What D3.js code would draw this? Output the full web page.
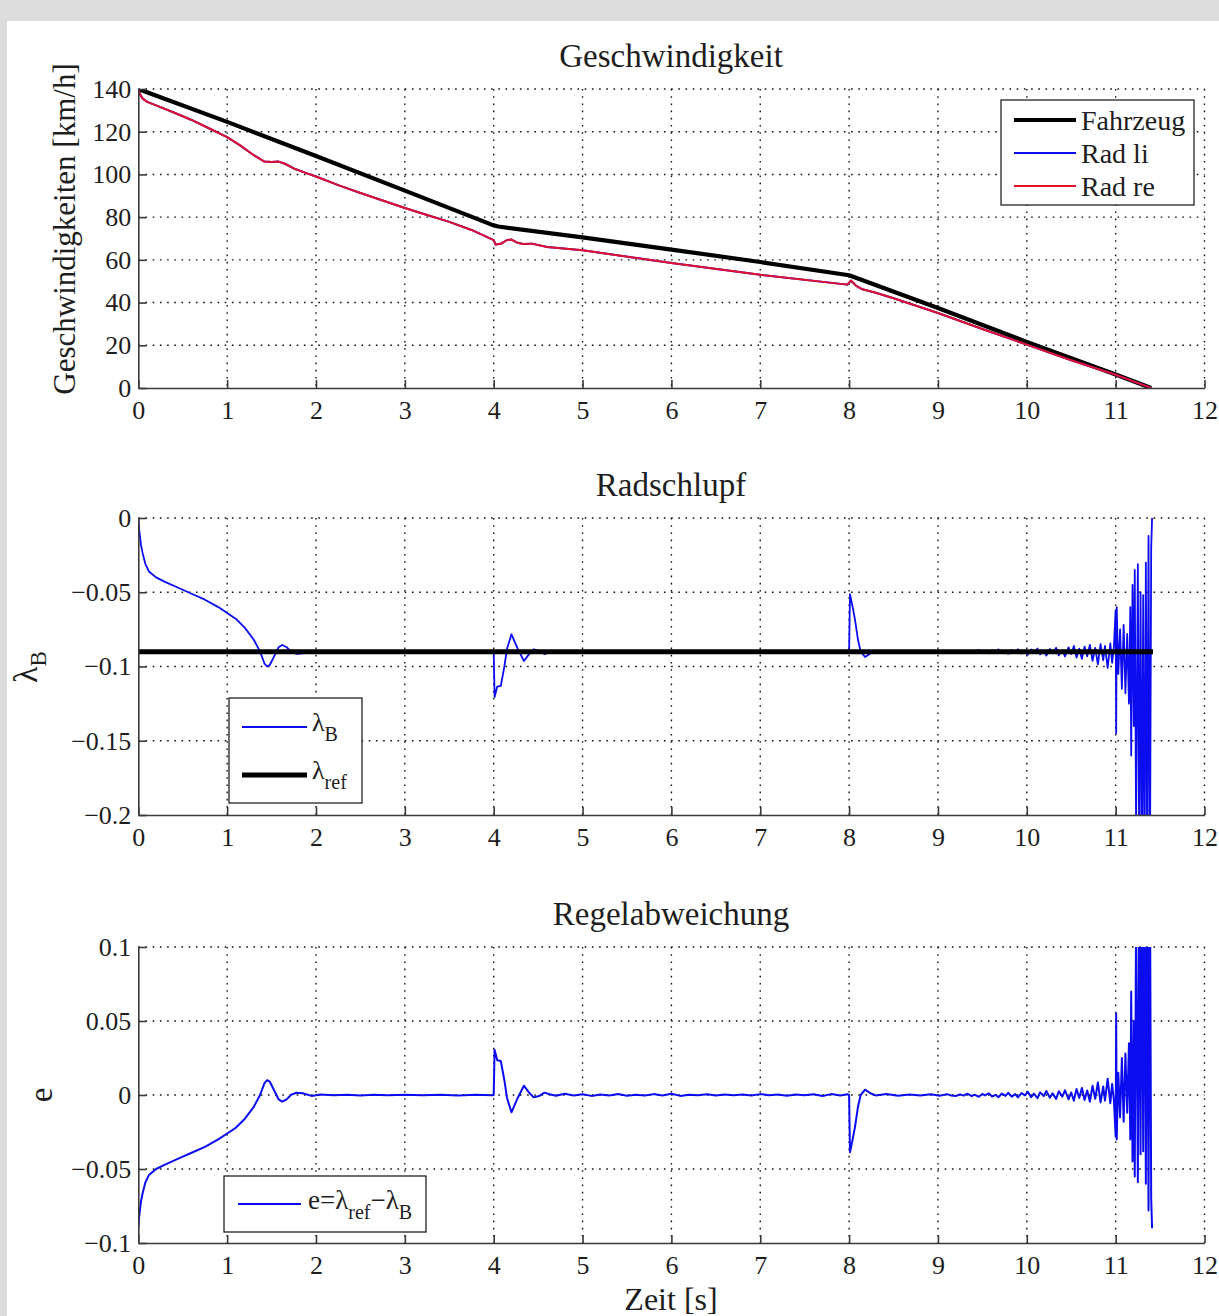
<!DOCTYPE html>
<html>
<head>
<meta charset="utf-8">
<script src="https://cdn.jsdelivr.net/npm/d3@7"></script>
<style>
html, body { margin: 0; padding: 0; background: #dcdcdc; }
svg { display: block; }
text { font-family: "Liberation Serif", "DejaVu Serif", serif; fill: #1e1e1e; }
</style>
</head>
<body>
<svg id="chart" width="1219" height="1316"></svg>
<script>
// achsen
const timeTicks = [0, 1, 2, 3, 4, 5, 6, 7, 8, 9, 10, 11, 12];
const speedTicks = [0, 20, 40, 60, 80, 100, 120, 140];
const slipTicks = [0, -0.05, -0.1, -0.15, -0.2];
const errTicks = [0.1, 0.05, 0, -0.05, -0.1];

// Geschwindigkeit [km/h] über Zeit [s]
const fahrzeug = [
    [0, 140], [1, 124.6], [2, 108.6], [3, 92.4], [3.97, 76.6], [4.05, 75.6],
    [5, 70.5], [6, 64.8], [7, 59], [8, 52.8], [9, 37.5], [10, 21.6], [11, 6.3], [11.4, 0]
];
const radRe = [
    [0, 140], [0.02, 137.5], [0.05, 135.5], [0.1, 134], [0.2, 132.3], [0.4, 129],
    [0.6, 125.5], [0.8, 121.5], [1.0, 117.5], [1.15, 113.5], [1.3, 109], [1.42, 106],
    [1.5, 105.8], [1.58, 106], [1.65, 105], [1.75, 102.8], [1.9, 100.5], [2.0, 99],
    [2.25, 95], [2.5, 91.3], [2.75, 87.8], [3.0, 84.3], [3.25, 81], [3.5, 77.8],
    [3.75, 74], [3.97, 69.8], [4.0, 69.2], [4.02, 67.2], [4.08, 67.5], [4.15, 69.3],
    [4.2, 69.5], [4.27, 68], [4.33, 67.4], [4.43, 67.6], [4.6, 66], [5, 64.5],
    [6, 58.5], [7, 53], [7.98, 48.4], [8.02, 50.3], [8.08, 47.8], [8.15, 46.2],
    [8.3, 44.6], [8.5, 42], [9, 35.1], [9.5, 27.6], [10, 20.3], [10.5, 13],
    [11, 6.2], [11.4, 0]
];
// linkes Rad liegt im Bild komplett unter dem rechten
const radLi = radRe;

// Radschlupf
const lambdaRef = -0.09;
const lambdaRefEnd = 11.42;
const lambdaB = [
    [0, 0], [0.01, -0.008], [0.03, -0.018], [0.05, -0.024], [0.08, -0.031], [0.12, -0.036],
    [0.2, -0.040], [0.3, -0.043], [0.45, -0.047], [0.6, -0.051], [0.75, -0.055], [0.9, -0.060],
    [1.0, -0.064], [1.1, -0.068], [1.2, -0.074], [1.3, -0.082], [1.37, -0.090], [1.42, -0.098],
    [1.45, -0.100], [1.48, -0.099], [1.53, -0.093], [1.58, -0.087], [1.62, -0.0855], [1.67, -0.087],
    [1.72, -0.0902], [1.78, -0.0915], [1.85, -0.0912], [1.95, -0.0894], [2.05, -0.0903], [2.2, -0.0898],
    [2.35, -0.0902], [2.5, -0.0897], [2.65, -0.0901], [2.8, -0.0898], [3.0, -0.0902], [3.2, -0.0898],
    [3.4, -0.0901], [3.6, -0.0897], [3.8, -0.0901], [3.99, -0.0899],
    [4.0, -0.0900], [4.01, -0.1206], [4.04, -0.1135], [4.08, -0.1130], [4.12, -0.1000], [4.15, -0.0880],
    [4.2, -0.0783], [4.27, -0.0880], [4.34, -0.0963], [4.4, -0.0915], [4.45, -0.0884], [4.51, -0.0893],
    [4.57, -0.0916], [4.63, -0.0905], [4.7, -0.0895], [4.8, -0.0908], [4.9, -0.0896], [5.0, -0.0905],
    [5.1, -0.0894], [5.2, -0.0903], [5.3, -0.0897], [5.4, -0.0907], [5.5, -0.0895], [5.6, -0.0902],
    [5.7, -0.0896], [5.8, -0.0906], [5.9, -0.0897], [6.0, -0.0908], [6.1, -0.0894], [6.2, -0.0902],
    [6.3, -0.0898], [6.4, -0.0905], [6.5, -0.0896], [6.6, -0.0903], [6.7, -0.0899], [6.8, -0.0904],
    [6.9, -0.0896], [7.0, -0.0906], [7.1, -0.0898], [7.2, -0.0903], [7.3, -0.0895], [7.4, -0.0904],
    [7.5, -0.0898], [7.6, -0.0905], [7.7, -0.0893], [7.8, -0.0906], [7.9, -0.0897], [7.98, -0.0905],
    [8.0, -0.0900], [8.01, -0.0513], [8.04, -0.0600], [8.065, -0.0680], [8.1, -0.0820], [8.13, -0.0900],
    [8.18, -0.0936], [8.24, -0.0912], [8.3, -0.0897], [8.42, -0.0906], [8.55, -0.0895], [8.68, -0.0904],
    [8.8, -0.0897], [8.92, -0.0905], [9.02, -0.0895], [9.1, -0.0906], [9.15, -0.0897],
    [9.20, -0.0893], [9.25, -0.0904], [9.29, -0.0896], [9.33, -0.0909], [9.38, -0.0892], [9.41, -0.0902],
    [9.46, -0.0888], [9.50, -0.0907], [9.53, -0.0897], [9.57, -0.0912], [9.61, -0.0890], [9.65, -0.0901],
    [9.68, -0.0885], [9.72, -0.0910], [9.76, -0.0894], [9.79, -0.0915], [9.83, -0.0889], [9.87, -0.0906],
    [9.90, -0.0884], [9.94, -0.0913], [9.98, -0.0898], [10.01, -0.0921], [10.05, -0.0886], [10.08, -0.0909],
    [10.12, -0.0879], [10.15, -0.0918], [10.19, -0.0893], [10.22, -0.0927], [10.26, -0.0882], [10.29, -0.0911],
    [10.33, -0.0874], [10.36, -0.0925], [10.40, -0.0889], [10.43, -0.0932], [10.47, -0.0871], [10.50, -0.0917],
    [10.53, -0.0862], [10.56, -0.0940], [10.59, -0.0880], [10.62, -0.0948], [10.65, -0.0866], [10.68, -0.0931],
    [10.71, -0.0855], [10.74, -0.0962], [10.77, -0.0874], [10.80, -0.0985], [10.83, -0.0850], [10.86, -0.0958],
    [10.88, -0.0862], [10.91, -0.1010], [10.94, -0.0845], [10.96, -0.0975], [10.98, -0.0868],
    [11.0, -0.0620], [11.006, -0.1450], [11.012, -0.0600], [11.03, -0.1050], [11.05, -0.0750], [11.07, -0.1150],
    [11.09, -0.0720], [11.11, -0.1180], [11.13, -0.0780], [11.15, -0.1250], [11.165, -0.0600], [11.175, -0.1600],
    [11.19, -0.0450], [11.205, -0.1400], [11.215, -0.0350], [11.23, -0.2100], [11.25, -0.0310], [11.265, -0.2300],
    [11.28, -0.0500], [11.295, -0.2400], [11.31, -0.0520], [11.325, -0.2500], [11.34, -0.0300], [11.355, -0.2300],
    [11.37, -0.0120], [11.385, -0.2600], [11.4, -0.0200], [11.41, 0]
];
// Regelabweichung e = lambda_ref - lambda_B
const regelAbw = lambdaB.map(([t, l]) => [t, lambdaRef - l]);

const svg = d3.select('#chart');
svg.append('rect').attr('x', 7).attr('y', 21).attr('width', 1212).attr('height', 1295).attr('fill', '#fff');

const x = d3.scaleLinear().domain([0, 12]).range([138.3, 1204.5]);
const minus = v => (v < 0 ? '\u2212' : '') + Math.abs(v);

const BLUE = '#0c0cf0';
const RED = '#e3102c';
const SERIF = 'Liberation Serif, DejaVu Serif, serif';

//一个子图
function panel(cfg) {
    const y = d3.scaleLinear().domain(cfg.domain).range([cfg.bottom, cfg.top]);
    const g = svg.append('g');

    //grid
    g.selectAll('line.gx').data(timeTicks.filter(t => t > 0)).join('line')
        .attr('class', 'gx')
        .attr('x1', d => x(d)).attr('x2', d => x(d))
        .attr('y1', cfg.top).attr('y2', cfg.bottom);
    g.selectAll('line.gy').data(cfg.ticks.filter(v => v !== cfg.domain[0])).join('line')
        .attr('class', 'gy')
        .attr('x1', x(0)).attr('x2', x(12))
        .attr('y1', d => y(d)).attr('y2', d => y(d));
    g.selectAll('line.gx, line.gy')
        .attr('stroke', '#111').attr('stroke-width', 1.4).attr('stroke-dasharray', '1.6,5.6');

    const clipId = 'clip' + cfg.id;
    svg.append('clipPath').attr('id', clipId).append('rect')
        .attr('x', x(0)).attr('y', cfg.top)
        .attr('width', x(12) - x(0)).attr('height', cfg.bottom - cfg.top);
    const plot = g.append('g').attr('clip-path', `url(#${clipId})`);
    const line = d3.line().x(d => x(d[0])).y(d => y(d[1]));
    cfg.series.forEach(s => {
        plot.append('path').datum(s.data)
            .attr('d', line)
            .attr('fill', 'none')
            .attr('stroke', s.color)
            .attr('stroke-width', s.width)
            .attr('stroke-linejoin', 'round');
    });

    //axes
    const ax = g.append('g').attr('transform', `translate(0,${cfg.bottom})`)
        .call(d3.axisBottom(x).tickValues(timeTicks).tickFormat(d3.format('d'))
            .tickSize(-8).tickSizeOuter(0).tickPadding(13));
    const ay = g.append('g').attr('transform', `translate(${x(0)},0)`)
        .call(d3.axisLeft(y).tickValues(cfg.ticks).tickFormat(minus)
            .tickSize(-8).tickSizeOuter(0).tickPadding(7));
    [ax, ay].forEach(a => {
        a.attr('font-family', SERIF).attr('font-size', 26);
        a.select('.domain').attr('stroke', '#3a3a3a').attr('stroke-width', 1.6);
        a.selectAll('.tick line').attr('stroke', '#3a3a3a').attr('stroke-width', 1.6);
        a.selectAll('.tick text').attr('font-family', SERIF).attr('fill', '#1e1e1e');
    });

    g.append('text').attr('x', 671).attr('y', cfg.top - 22)
        .attr('text-anchor', 'middle').attr('font-size', 33).text(cfg.title);
    return { g, y };
}

//Geschwindigkeit
const p1 = panel({
    id: 1, top: 89, bottom: 388, domain: [0, 140], ticks: speedTicks, title: 'Geschwindigkeit',
    series: [
        { data: fahrzeug, color: '#000', width: 4.2 },
        { data: radLi, color: BLUE, width: 2 },
        { data: radRe, color: RED, width: 2 }
    ]
});
p1.g.append('text').attr('transform', 'translate(75,229) rotate(-90)')
    .attr('text-anchor', 'middle').attr('font-size', 31).text('Geschwindigkeiten [km/h]');

const leg1 = p1.g.append('g').attr('transform', 'translate(1001,100)');
leg1.append('rect').attr('width', 193).attr('height', 105)
    .attr('fill', '#fff').attr('stroke', '#222').attr('stroke-width', 1.3);
const leg1Items = [
    { name: 'Fahrzeug', color: '#000', width: 4.2 },
    { name: 'Rad li', color: BLUE, width: 2 },
    { name: 'Rad re', color: RED, width: 2 }
];
leg1Items.forEach((item, i) => {
    const yy = 20 + i * 33;
    leg1.append('line').attr('x1', 13).attr('x2', 75).attr('y1', yy).attr('y2', yy)
        .attr('stroke', item.color).attr('stroke-width', item.width);
    leg1.append('text').attr('x', 80).attr('y', yy).attr('dy', '0.35em')
        .attr('font-size', 28).text(item.name);
});

//Radschlupf
const p2 = panel({
    id: 2, top: 518, bottom: 815, domain: [-0.2, 0], ticks: slipTicks, title: 'Radschlupf',
    series: [
        { data: lambdaB, color: BLUE, width: 1.8 },
        { data: [[0, lambdaRef], [lambdaRefEnd, lambdaRef]], color: '#000', width: 5 }
    ]
});
const yl2 = p2.g.append('text').attr('transform', 'translate(37,667) rotate(-90)')
    .attr('text-anchor', 'middle').attr('font-size', 34);
yl2.append('tspan').text('\u03bb');
yl2.append('tspan').attr('dy', 9).attr('font-size', 23).text('B');

const leg2 = p2.g.append('g').attr('transform', 'translate(229,698)');
leg2.append('rect').attr('width', 133).attr('height', 105)
    .attr('fill', '#fff').attr('stroke', '#222').attr('stroke-width', 1.3);
[{ sub: 'B', color: BLUE, width: 2 }, { sub: 'ref', color: '#000', width: 5 }].forEach((item, i) => {
    const yy = 29 + i * 48;
    leg2.append('line').attr('x1', 13).attr('x2', 78).attr('y1', yy).attr('y2', yy)
        .attr('stroke', item.color).attr('stroke-width', item.width);
    const t = leg2.append('text').attr('x', 83).attr('y', yy + 4).attr('font-size', 26);
    t.append('tspan').text('\u03bb');
    t.append('tspan').attr('dy', 10).attr('font-size', 20).text(item.sub);
});

//Regelabweichung
const p3 = panel({
    id: 3, top: 947, bottom: 1243, domain: [-0.1, 0.1], ticks: errTicks, title: 'Regelabweichung',
    series: [{ data: regelAbw, color: BLUE, width: 2 }]
});
p3.g.append('text').attr('transform', 'translate(52,1095) rotate(-90)')
    .attr('text-anchor', 'middle').attr('font-size', 33).text('e');
p3.g.append('text').attr('x', 671).attr('y', 1310)
    .attr('text-anchor', 'middle').attr('font-size', 32).text('Zeit [s]');

const leg3 = p3.g.append('g').attr('transform', 'translate(224,1176)');
leg3.append('rect').attr('width', 202).attr('height', 56)
    .attr('fill', '#fff').attr('stroke', '#222').attr('stroke-width', 1.3);
leg3.append('line').attr('x1', 14).attr('x2', 77).attr('y1', 28).attr('y2', 28)
    .attr('stroke', BLUE).attr('stroke-width', 2);
const lt3 = leg3.append('text').attr('x', 84).attr('y', 33).attr('font-size', 27);
lt3.append('tspan').text('e=\u03bb');
lt3.append('tspan').attr('dy', 10).attr('font-size', 20).text('ref');
lt3.append('tspan').attr('dy', -10).text('\u2212\u03bb');
lt3.append('tspan').attr('dy', 10).attr('font-size', 20).text('B');
</script>
</body>
</html>
